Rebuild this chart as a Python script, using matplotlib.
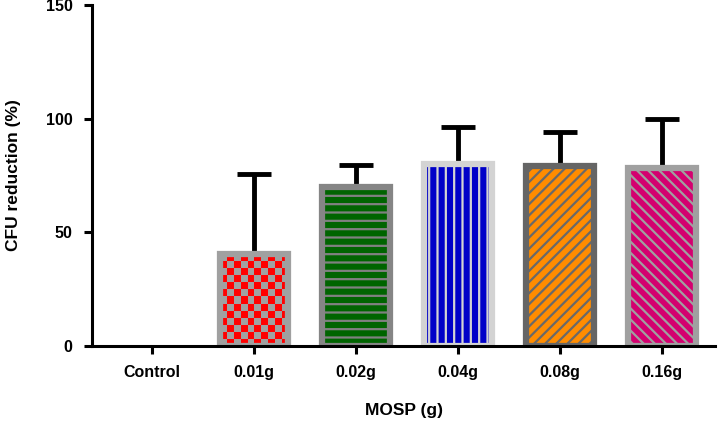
import numpy as np
import matplotlib
matplotlib.use("Agg")
import matplotlib.pyplot as plt
from matplotlib.colors import ListedColormap

# data
groups = ["Control", "0.01g", "0.02g", "0.04g", "0.08g", "0.16g"]
means = [0, 40.3, 70, 80, 79, 78.4]
sds = [0, 35.3, 9.7, 16.3, 15.1, 21.5]

faces = ["white", "#A0A0A0", "#006400", "#0000C8", "#FF8C00", "#D4006F"]
hatch_cols = ["white", "#FF0000", "#808080", "#D3D3D3", "#696969", "#A0A0A0"]
borders = ["white", "#A0A0A0", "#858585", "#D3D3D3", "#656565", "#A0A0A0"]
hatches = [None, None, "--", "||", "///", "\\\\\\"]

plt.rcParams["font.family"] = ["Liberation Sans", "DejaVu Sans"]
plt.rcParams["font.weight"] = "bold"
plt.rcParams["hatch.linewidth"] = 1.6

fig = plt.figure(figsize=(7.2, 4.23), dpi=100)
ax = fig.add_axes([0.128, 0.182, 0.865, 0.806])

x = np.arange(len(groups))
width = 0.67
show = [i for i in range(len(groups)) if means[i] > 0]

# error bars (upper only), behind the bars
for i in show:
    ax.errorbar(x[i], means[i], yerr=[[0], [sds[i]]], fmt="none", ecolor="black",
                elinewidth=3.5, capsize=12, capthick=3.5, zorder=1)

for i in show:
    b = ax.bar(x[i], means[i], width, color=faces[i], edgecolor=hatch_cols[i],
               linewidth=0, hatch=hatches[i], zorder=2)
    if i == 1:
        # checkerboard fill clipped to the bar
        p = b.patches[0]
        nx = 10
        ny = int(round(means[i] / 3.0))
        chk = (np.add.outer(np.arange(ny), np.arange(nx)) % 2)
        im = ax.imshow(chk, cmap=ListedColormap([faces[i], hatch_cols[i]]),
                       extent=[p.get_x(), p.get_x() + p.get_width(), 0, means[i]],
                       aspect="auto", interpolation="nearest", zorder=2)
        im.set_clip_path(p)
    ax.bar(x[i], means[i], width, fill=False, edgecolor=borders[i],
           linewidth=4.5, zorder=3)

ax.set_xlim(-0.59, 5.52)
ax.set_ylim(0, 150)
ax.set_yticks([0, 50, 100, 150])
ax.set_xticks(x)
ax.set_xticklabels(groups)

ax.spines["top"].set_visible(False)
ax.spines["right"].set_visible(False)
ax.spines["left"].set_linewidth(2.2)
ax.spines["bottom"].set_linewidth(2.2)
ax.spines["bottom"].set_zorder(4)
ax.tick_params(width=2.2, length=6, labelsize=11.5, pad=8)

ax.set_xlabel("MOSP (g)", fontsize=12.5, fontweight="bold", labelpad=16)
ax.set_ylabel("CFU reduction (%)", fontsize=12.5, fontweight="bold", labelpad=18)

fig.savefig("out.png", dpi=100)
